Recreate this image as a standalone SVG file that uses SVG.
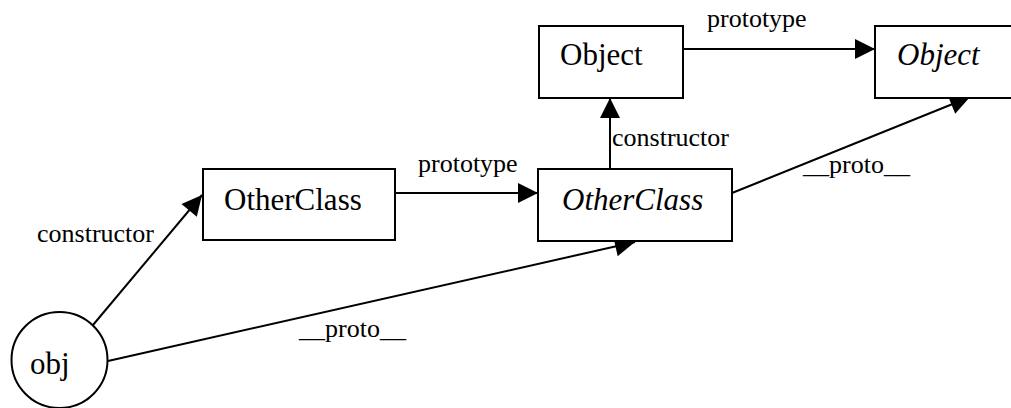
<svg xmlns="http://www.w3.org/2000/svg" width="1011" height="408" viewBox="0 0 1011 408">
  <style>
    .box { fill: #fff; stroke: #000; stroke-width: 2; }
    .node { font-family: "Liberation Serif", "Times New Roman", serif; font-size: 31px; fill: #000; }
    .it { font-style: italic; }
    .lbl { font-family: "Liberation Serif", "Times New Roman", serif; font-size: 26px; fill: #000; }
    .edge { fill: none; stroke: #000; stroke-width: 2; marker-end: url(#arrow); }
  </style>
  <defs>
    <marker id="arrow" markerUnits="userSpaceOnUse" markerWidth="22" markerHeight="22" viewBox="0 0 22 22" refX="21" refY="11" orient="auto">
      <path d="M1,1 L21,11 L1,21 z" fill="#000"/>
    </marker>
  </defs>
  <rect width="1011" height="408" fill="#fff"/>

  <g id="connectors">
    <line class="edge" x1="93" y1="325" x2="202" y2="195"/>
    <line class="edge" x1="108" y1="361" x2="635" y2="242"/>
    <line class="edge" x1="395" y1="193" x2="538" y2="193"/>
    <line class="edge" x1="610" y1="169" x2="610" y2="98"/>
    <line class="edge" x1="683" y1="49" x2="875" y2="49"/>
    <line class="edge" x1="732" y1="193" x2="970" y2="97"/>
    <text class="lbl" x="37" y="242">constructor</text>
    <text class="lbl" x="299" y="337">__proto__</text>
    <text class="lbl" x="418" y="172">prototype</text>
    <text class="lbl" x="612" y="146">constructor</text>
    <text class="lbl" x="707" y="27">prototype</text>
    <text class="lbl" x="803" y="173">__proto__</text>
  </g>

  <g id="obj">
    <circle class="box" cx="59.5" cy="360" r="48"/>
    <text class="node" x="30" y="374">obj</text>
  </g>

  <g id="OtherClassFn">
    <rect class="box" x="203" y="169" width="192" height="71"/>
    <text class="node" x="224" y="210">OtherClass</text>
  </g>

  <g id="OtherClassProto">
    <rect class="box" x="538" y="169" width="194" height="72"/>
    <text class="node it" x="562" y="210">OtherClass</text>
  </g>

  <g id="ObjectFn">
    <rect class="box" x="539" y="26" width="144" height="72"/>
    <text class="node" x="560" y="65">Object</text>
  </g>

  <g id="ObjectProto">
    <rect class="box" x="875" y="26" width="144" height="72"/>
    <text class="node it" x="897" y="65">Object</text>
  </g>
</svg>
